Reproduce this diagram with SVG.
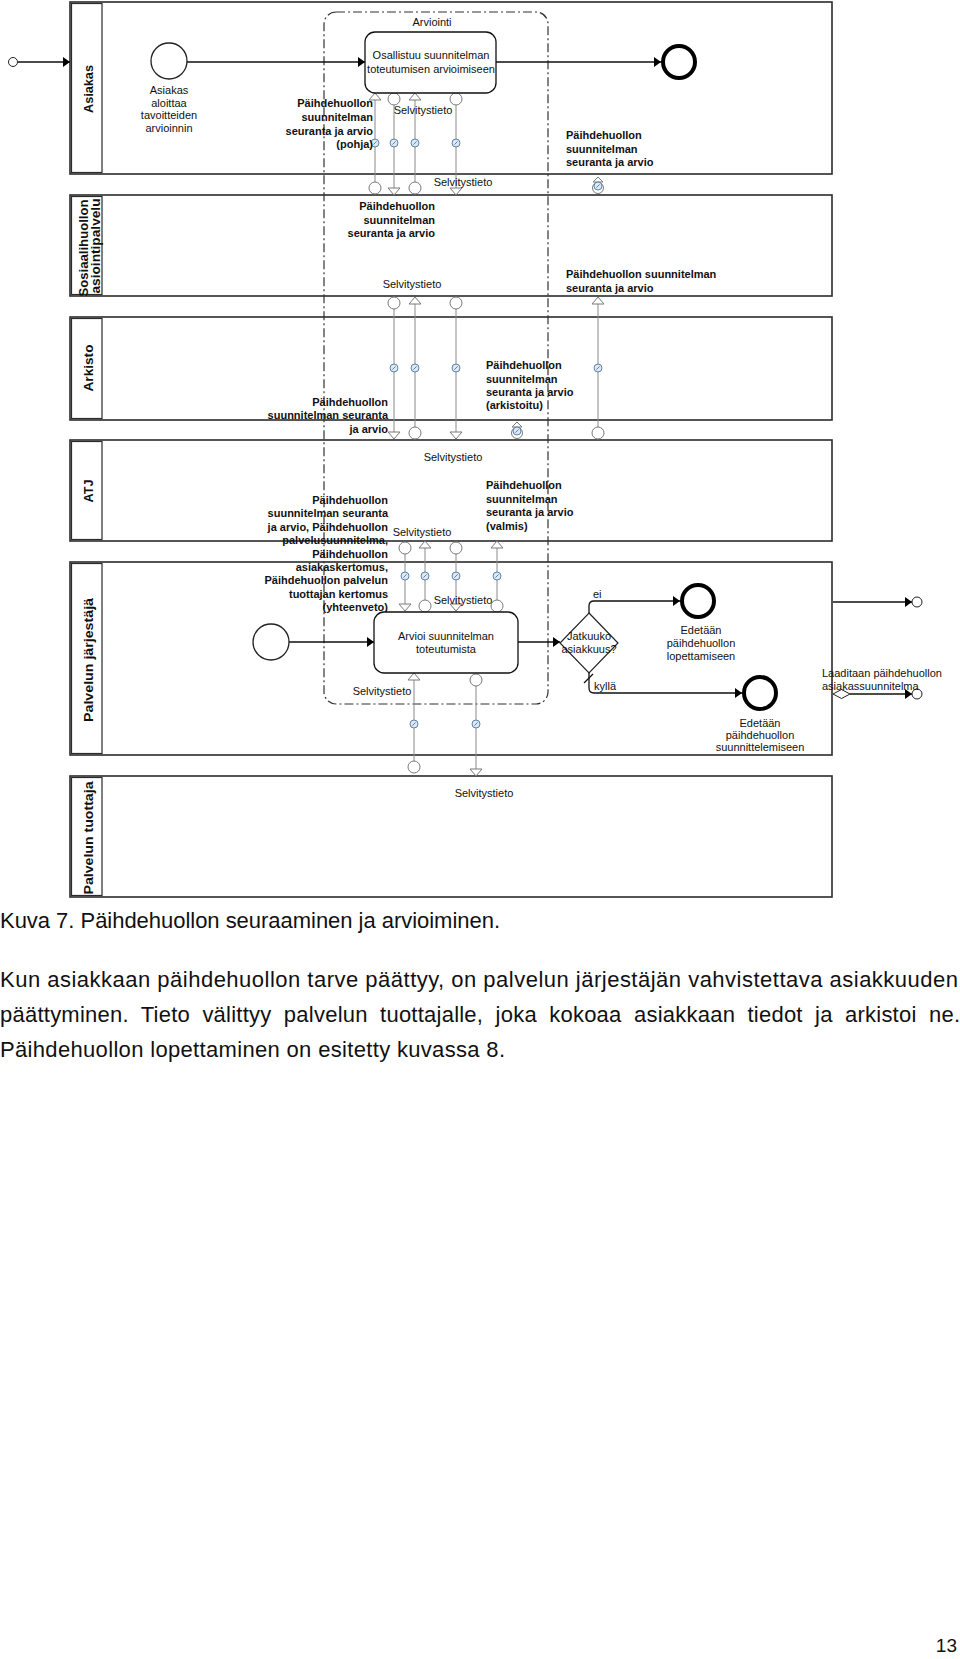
<svg xmlns="http://www.w3.org/2000/svg" width="960" height="1659" viewBox="0 0 960 1659">
<style>
.lane{fill:#fff;stroke:#2b2b2b;stroke-width:1.6}
.hdr{fill:#fff;stroke:#2b2b2b;stroke-width:1.2}
.lt{font-family:"Liberation Sans",Arial,sans-serif;font-weight:bold;font-size:13.5px;fill:#111}
.t{font-family:"Liberation Sans",Arial,sans-serif;font-size:11px;fill:#111}
.b{font-family:"Liberation Sans",Arial,sans-serif;font-size:11px;font-weight:bold;fill:#111}
.c{text-anchor:middle}
.r{text-anchor:end}
.seq{fill:none;stroke:#111;stroke-width:1.3}
.msg{stroke:#8a8a8a;stroke-width:1;fill:none}
.task{fill:#fff;stroke:#111;stroke-width:1.3}
.start{fill:#fff;stroke:#222;stroke-width:1.3}
.end{fill:#fff;stroke:#000;stroke-width:4}
.small{fill:#fff;stroke:#222;stroke-width:1}
.grp{fill:none;stroke:#333;stroke-width:1.2;stroke-dasharray:9,3,2,3}
.body{font-family:"Liberation Sans",Arial,sans-serif;font-size:22px;fill:#111}
</style>
<defs>
<marker id="arr" viewBox="0 0 7 10" refX="7" refY="5" markerWidth="7" markerHeight="10" markerUnits="userSpaceOnUse" orient="auto"><path d="M0,0 L7,5 L0,10 Z" fill="#000"/></marker>
<circle id="mc" r="6" fill="#fff" stroke="#7a7a7a" stroke-width="1"/>
<path id="tu" d="M0,0 L6,7 L-6,7 Z" fill="#fff" stroke="#7a7a7a" stroke-width="1"/>
<path id="td" d="M0,0 L6,-7 L-6,-7 Z" fill="#fff" stroke="#7a7a7a" stroke-width="1"/>
<g id="env"><circle r="4" fill="#dce9f5" stroke="#3b6a98" stroke-width="0.8"/><path d="M-1.6,1.6 L1.6,-1.6" stroke="#3b6a98" stroke-width="0.8"/></g>
<g id="msgicon"><path d="M0,-8 L5,-3 L-5,-3 Z" fill="#fff" stroke="#7a7a7a" stroke-width="1"/><circle cx="0" cy="3" r="5.5" fill="#fff" stroke="#7a7a7a" stroke-width="1"/><use href="#env" x="0" y="1"/></g>
</defs>

<g id="lane-asiakas">
<rect class="lane" x="70" y="2" width="762" height="172"/>
<rect class="hdr" x="71.5" y="3.5" width="30.5" height="169"/>
<text class="lt c" transform="translate(92.5,89) rotate(-90)" textLength="48" lengthAdjust="spacingAndGlyphs">Asiakas</text>
</g>
<g id="lane-asiointipalvelu">
<rect class="lane" x="70" y="195" width="762" height="101"/>
<rect class="hdr" x="71.5" y="196.5" width="30.5" height="98"/>
<text class="lt c" transform="translate(88,248) rotate(-90)" textLength="97" lengthAdjust="spacingAndGlyphs">Sosiaalihuollon</text>
<text class="lt c" transform="translate(100,246) rotate(-90)" textLength="95" lengthAdjust="spacingAndGlyphs">asiointipalvelu</text>
</g>
<g id="lane-arkisto">
<rect class="lane" x="70" y="317" width="762" height="103"/>
<rect class="hdr" x="71.5" y="318.5" width="30.5" height="100"/>
<text class="lt c" transform="translate(92.5,368) rotate(-90)" textLength="47" lengthAdjust="spacingAndGlyphs">Arkisto</text>
</g>
<g id="lane-atj">
<rect class="lane" x="70" y="440" width="762" height="101"/>
<rect class="hdr" x="71.5" y="441.5" width="30.5" height="98"/>
<text class="lt c" transform="translate(92.5,491) rotate(-90)" textLength="23" lengthAdjust="spacingAndGlyphs">ATJ</text>
</g>
<g id="lane-jarjestaja">
<rect class="lane" x="70" y="562" width="762" height="193"/>
<rect class="hdr" x="71.5" y="563.5" width="30.5" height="190"/>
<text class="lt c" transform="translate(92.5,660) rotate(-90)" textLength="124" lengthAdjust="spacingAndGlyphs">Palvelun järjestäjä</text>
</g>
<g id="lane-tuottaja">
<rect class="lane" x="70" y="776" width="762" height="121"/>
<rect class="hdr" x="71.5" y="777.5" width="30.5" height="118"/>
<text class="lt c" transform="translate(92.5,838) rotate(-90)" textLength="113" lengthAdjust="spacingAndGlyphs">Palvelun tuottaja</text>
</g>

<g id="group-arviointi">
<rect class="grp" x="324" y="12" width="224" height="692" rx="12"/>
<text class="t c" x="432" y="26">Arviointi</text>
</g>

<g id="connectors">
<path class="seq" d="M18,62 L70,62" marker-end="url(#arr)"/>
<path class="seq" d="M187,62 L365,62" marker-end="url(#arr)"/>
<path class="seq" d="M496,62 L661,62" marker-end="url(#arr)"/>
<path class="seq" d="M289,642 L374,642" marker-end="url(#arr)"/>
<path class="seq" d="M518,642 L560,642" marker-end="url(#arr)"/>
<path class="seq" d="M589,613 L589,606 Q589,601 594,601 L680,601" marker-end="url(#arr)"/>
<path class="seq" d="M589,673 L589,688 Q589,693 594,693 L742,693" marker-end="url(#arr)"/>
<path class="seq" d="M584,683 L593,674"/>
<path class="seq" d="M833,602 L912,602" marker-end="url(#arr)"/>
<path class="seq" d="M850,694 L912,694" marker-end="url(#arr)"/>
<path d="M833,694 L841.5,689.5 L850,694 L841.5,698.5 Z" fill="#fff" stroke="#222" stroke-width="1"/>

<g id="messages">
<path class="msg" d="M375,100 V182 M394,105 V188 M415,100 V182 M456,105 V188"/>
<path class="msg" d="M394,309 V432 M415,304 V427 M456,309 V432 M598,304 V427"/>
<path class="msg" d="M405,554 V604 M425,548 V600 M456,554 V604 M497,548 V600"/>
<path class="msg" d="M414,680 V761 M476,686 V769"/>
<use href="#tu" x="375" y="93"/><use href="#mc" x="375" y="188"/>
<use href="#mc" x="394" y="99"/><use href="#td" x="394" y="195"/>
<use href="#tu" x="415" y="93"/><use href="#mc" x="415" y="188"/>
<use href="#mc" x="456" y="99"/><use href="#td" x="456" y="195"/>
<use href="#mc" x="394" y="303"/><use href="#td" x="394" y="439"/>
<use href="#tu" x="415" y="297"/><use href="#mc" x="415" y="433"/>
<use href="#mc" x="456" y="303"/><use href="#td" x="456" y="439"/>
<use href="#tu" x="598" y="297"/><use href="#mc" x="598" y="433"/>
<use href="#mc" x="405" y="548"/><use href="#td" x="405" y="611"/>
<use href="#tu" x="425" y="541"/><use href="#mc" x="425" y="606"/>
<use href="#mc" x="456" y="548"/><use href="#td" x="456" y="611"/>
<use href="#tu" x="497" y="541"/><use href="#mc" x="497" y="606"/>
<use href="#tu" x="414" y="673"/><use href="#mc" x="414" y="767"/>
<use href="#mc" x="476" y="680"/><use href="#td" x="476" y="776"/>
<use href="#env" x="375" y="143"/><use href="#env" x="394" y="143"/><use href="#env" x="415" y="143"/><use href="#env" x="456" y="143"/>
<use href="#env" x="394" y="368"/><use href="#env" x="415" y="368"/><use href="#env" x="456" y="368"/><use href="#env" x="598" y="368"/>
<use href="#env" x="405" y="576"/><use href="#env" x="425" y="576"/><use href="#env" x="456" y="576"/><use href="#env" x="497" y="576"/>
<use href="#env" x="414" y="724"/><use href="#env" x="476" y="724"/>
<use href="#msgicon" x="598" y="185"/>
<use href="#msgicon" x="517" y="430"/>
</g>
</g>

<g id="offpage-start"><circle class="small" cx="13" cy="62" r="4.5"/></g>
<g id="start-asiakas">
<circle class="start" cx="169" cy="61" r="18"/>
<text class="t c" x="169" y="94">Asiakas</text>
<text class="t c" x="169" y="106.5">aloittaa</text>
<text class="t c" x="169" y="119">tavoitteiden</text>
<text class="t c" x="169" y="131.5">arvioinnin</text>
</g>
<g id="task-osallistuu">
<rect class="task" x="365" y="32" width="131" height="61" rx="10"/>
<text class="t c" x="431" y="59">Osallistuu suunnitelman</text>
<text class="t c" x="431" y="73">toteutumisen arvioimiseen</text>
</g>
<g id="end-asiakas"><circle class="end" cx="679" cy="62" r="16"/></g>

<g id="labels-asiakas">
<text class="b r" x="373" y="107">Päihdehuollon</text>
<text class="b r" x="373" y="121">suunnitelman</text>
<text class="b r" x="373" y="134.5">seuranta ja arvio</text>
<text class="b r" x="373" y="148">(pohja)</text>
<text class="t c" x="423" y="114">Selvitystieto</text>
<text class="b" x="566" y="139">Päihdehuollon</text>
<text class="b" x="566" y="152.5">suunnitelman</text>
<text class="b" x="566" y="166">seuranta ja arvio</text>
<text class="t c" x="463" y="186">Selvitystieto</text>
</g>
<g id="labels-asiointipalvelu">
<text class="b r" x="435" y="210">Päihdehuollon</text>
<text class="b r" x="435" y="224">suunnitelman</text>
<text class="b r" x="435" y="237">seuranta ja arvio</text>
<text class="t c" x="412" y="288">Selvitystieto</text>
<text class="b" x="566" y="278">Päihdehuollon suunnitelman</text>
<text class="b" x="566" y="292">seuranta ja arvio</text>
</g>
<g id="labels-arkisto">
<text class="b" x="486" y="369">Päihdehuollon</text>
<text class="b" x="486" y="383">suunnitelman</text>
<text class="b" x="486" y="396">seuranta ja arvio</text>
<text class="b" x="486" y="409">(arkistoitu)</text>
<text class="b r" x="388" y="406">Päihdehuollon</text>
<text class="b r" x="388" y="419">suunnitelman seuranta</text>
<text class="b r" x="388" y="433">ja arvio</text>
</g>
<g id="labels-atj">
<text class="t c" x="453" y="461">Selvitystieto</text>
<text class="b" x="486" y="489">Päihdehuollon</text>
<text class="b" x="486" y="502.5">suunnitelman</text>
<text class="b" x="486" y="516">seuranta ja arvio</text>
<text class="b" x="486" y="530">(valmis)</text>
<text class="b r" x="388" y="504">Päihdehuollon</text>
<text class="b r" x="388" y="517.4">suunnitelman seuranta</text>
<text class="b r" x="388" y="530.8">ja arvio, Päihdehuollon</text>
<text class="b r" x="388" y="544.2">palvelusuunnitelma,</text>
<text class="b r" x="388" y="557.6">Päihdehuollon</text>
<text class="b r" x="388" y="571">asiakaskertomus,</text>
<text class="b r" x="388" y="584.4">Päihdehuollon palvelun</text>
<text class="b r" x="388" y="597.8">tuottajan kertomus</text>
<text class="b r" x="388" y="611.2">(yhteenveto)</text>
<text class="t c" x="422" y="536">Selvitystieto</text>
</g>

<g id="start-jarjestaja"><circle class="start" cx="271" cy="642" r="18"/></g>
<g id="task-arvioi">
<rect class="task" x="374" y="612" width="144" height="61" rx="10"/>
<text class="t c" x="446" y="640">Arvioi suunnitelman</text>
<text class="t c" x="446" y="653">toteutumista</text>
</g>
<g id="labels-jarjestaja">
<text class="t c" x="463" y="604">Selvitystieto</text>
<text class="t c" x="382" y="695">Selvitystieto</text>
</g>
<g id="gateway-jatkuuko">
<path d="M589,613 L618,643 L589,673 L560,643 Z" fill="#fff" stroke="#222" stroke-width="1.2"/>
<text class="t c" x="589" y="640">Jatkuuko</text>
<text class="t c" x="589" y="653">asiakkuus?</text>
<text class="t" x="593" y="598">ei</text>
<text class="t" x="594" y="690">kyllä</text>
</g>
<g id="end-lopettaminen">
<circle class="end" cx="698" cy="601" r="16"/>
<text class="t c" x="701" y="634">Edetään</text>
<text class="t c" x="701" y="647">päihdehuollon</text>
<text class="t c" x="701" y="660">lopettamiseen</text>
</g>
<g id="end-suunnittelu">
<circle class="end" cx="760" cy="693" r="16"/>
<text class="t c" x="760" y="727">Edetään</text>
<text class="t c" x="760" y="739">päihdehuollon</text>
<text class="t c" x="760" y="751">suunnittelemiseen</text>
</g>
<g id="offpage-1"><circle class="small" cx="917" cy="602" r="5"/></g>
<g id="offpage-2">
<circle class="small" cx="917" cy="694" r="5"/>
<text class="t" x="822" y="677">Laaditaan päihdehuollon</text>
<text class="t" x="822" y="690">asiakassuunnitelma</text>
</g>
<g id="labels-tuottaja">
<text class="t c" x="484" y="797">Selvitystieto</text>
</g>

<g id="page-text">
<text class="body" x="0" y="928" textLength="500" lengthAdjust="spacing">Kuva 7. Päihdehuollon seuraaminen ja arvioiminen.</text>
<text class="body" x="0" y="987" textLength="958" lengthAdjust="spacing">Kun asiakkaan päihdehuollon tarve päättyy, on palvelun järjestäjän vahvistettava asiakkuuden</text>
<text class="body" x="0" y="1022" word-spacing="6" textLength="960" lengthAdjust="spacing">päättyminen. Tieto välittyy palvelun tuottajalle, joka kokoaa asiakkaan tiedot ja arkistoi ne.</text>
<text class="body" x="0" y="1057" textLength="505" lengthAdjust="spacing">Päihdehuollon lopettaminen on esitetty kuvassa 8.</text>
<text class="body" x="957" y="1652" style="font-size:19px" text-anchor="end">13</text>
</g>
</svg>
